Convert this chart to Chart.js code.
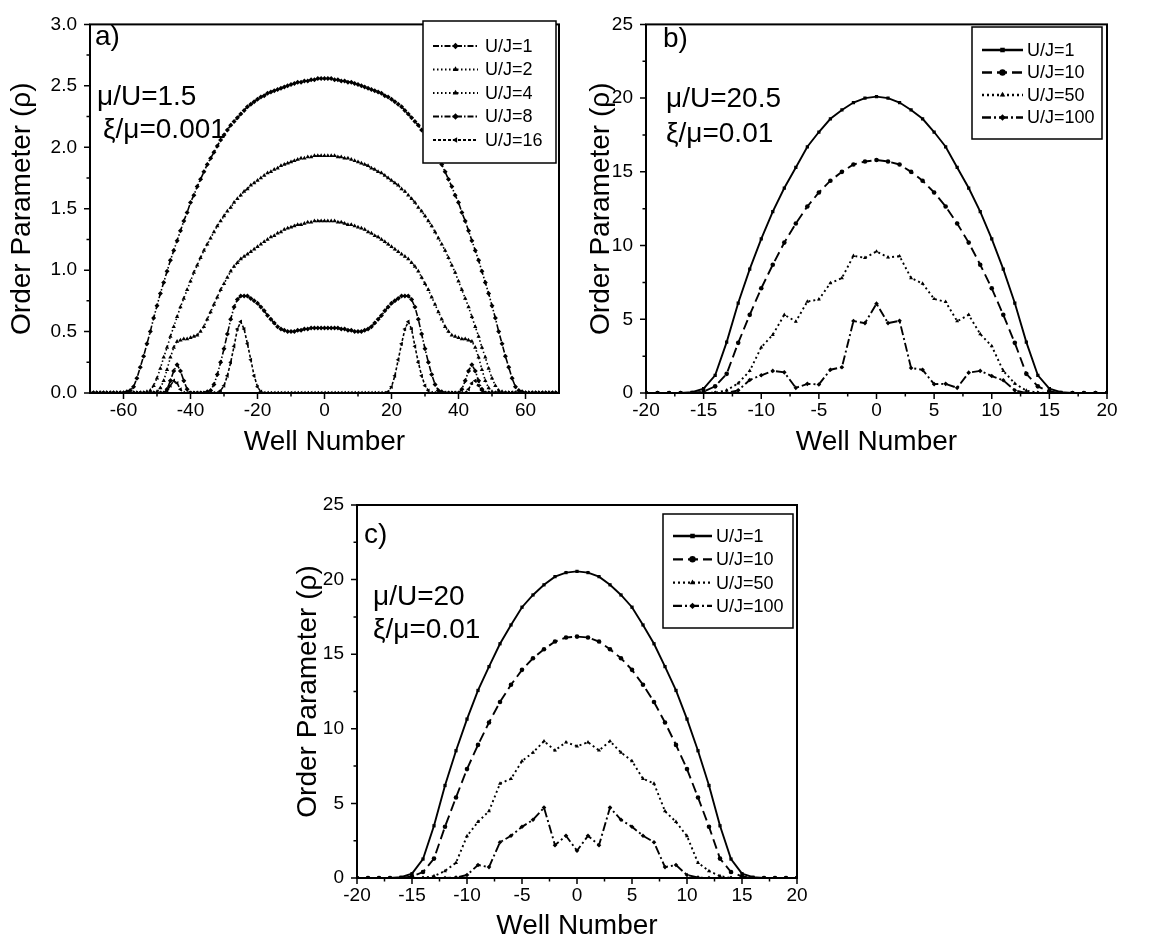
<!DOCTYPE html>
<html>
<head>
<meta charset="utf-8">
<script src="https://cdn.jsdelivr.net/npm/chart.js@4.4.1/dist/chart.umd.min.js"></script>
<style>
  html, body { margin: 0; padding: 0; background: #fff; }
  #page { position: relative; width: 1151px; height: 948px; }
  canvas { position: absolute; }
</style>
</head>
<body>
<div id="page">
  <canvas id="panelA" width="580" height="460" style="left:0;top:0"></canvas>
  <canvas id="panelB" width="571" height="460" style="left:580px;top:0"></canvas>
  <canvas id="panelC" width="540" height="478" style="left:290px;top:470px"></canvas>
</div>
<script>
'use strict';

/* ── Panel a data (wells -70 … 70) ─────────────────────────────────── */
const WELLS_A = [
  -70,-69,-68,-67,-66,-65,-64,-63,-62,-61,
  -60,-59,-58,-57,-56,-55,-54,-53,-52,-51,
  -50,-49,-48,-47,-46,-45,-44,-43,-42,-41,
  -40,-39,-38,-37,-36,-35,-34,-33,-32,-31,
  -30,-29,-28,-27,-26,-25,-24,-23,-22,-21,
  -20,-19,-18,-17,-16,-15,-14,-13,-12,-11,
  -10,-9,-8,-7,-6,-5,-4,-3,-2,-1,
  0,1,2,3,4,5,6,7,8,9,
  10,11,12,13,14,15,16,17,18,19,
  20,21,22,23,24,25,26,27,28,29,
  30,31,32,33,34,35,36,37,38,39,
  40,41,42,43,44,45,46,47,48,49,
  50,51,52,53,54,55,56,57,58,59,
  60,61,62,63,64,65,66,67,68,69,
  70
];
const A_UJ1 = [
  0,0,0,0,0,0,0,0,0,0,
  0,0.01,0.02,0.05,0.12,0.21,0.30,0.40,0.50,0.61,
  0.71,0.81,0.90,0.99,1.08,1.16,1.24,1.32,1.40,1.47,
  1.55,1.61,1.68,1.74,1.80,1.86,1.91,1.96,2.01,2.06,
  2.10,2.14,2.18,2.21,2.24,2.27,2.30,2.33,2.35,2.37,
  2.39,2.41,2.42,2.44,2.45,2.46,2.47,2.48,2.49,2.50,
  2.51,2.52,2.53,2.53,2.54,2.54,2.55,2.55,2.56,2.56,
  2.56,2.56,2.56,2.55,2.55,2.54,2.54,2.53,2.53,2.52,
  2.51,2.50,2.49,2.48,2.47,2.46,2.45,2.44,2.42,2.41,
  2.39,2.37,2.35,2.33,2.30,2.27,2.24,2.21,2.18,2.14,
  2.10,2.06,2.01,1.96,1.91,1.86,1.80,1.74,1.68,1.61,
  1.55,1.47,1.40,1.32,1.24,1.16,1.08,0.99,0.90,0.81,
  0.71,0.61,0.50,0.40,0.30,0.21,0.12,0.05,0.02,0.01,
  0,0,0,0,0,0,0,0,0,0,
  0
];
const A_UJ2 = [
  0,0,0,0,0,0,0,0,0,0,
  0,0,0,0,0,0,0,0.01,0.02,0.06,
  0.12,0.20,0.29,0.37,0.46,0.54,0.62,0.70,0.77,0.84,
  0.91,0.98,1.04,1.10,1.16,1.21,1.26,1.31,1.36,1.40,
  1.44,1.48,1.51,1.55,1.58,1.61,1.64,1.66,1.69,1.71,
  1.73,1.75,1.77,1.79,1.80,1.82,1.83,1.85,1.86,1.87,
  1.88,1.89,1.90,1.91,1.91,1.92,1.92,1.93,1.93,1.93,
  1.93,1.93,1.93,1.93,1.92,1.92,1.91,1.91,1.90,1.89,
  1.88,1.87,1.86,1.85,1.83,1.82,1.80,1.79,1.77,1.75,
  1.73,1.71,1.69,1.66,1.64,1.61,1.58,1.55,1.51,1.48,
  1.44,1.40,1.36,1.31,1.26,1.21,1.16,1.10,1.04,0.98,
  0.91,0.84,0.77,0.70,0.62,0.54,0.46,0.37,0.29,0.20,
  0.12,0.06,0.02,0.01,0,0,0,0,0,0,
  0,0,0,0,0,0,0,0,0,0,
  0
];
const A_UJ4 = [
  0,0,0,0,0,0,0,0,0,0,
  0,0,0,0,0,0,0,0,0,0,
  0.01,0.04,0.10,0.19,0.29,0.37,0.42,0.43,0.44,0.44,
  0.45,0.46,0.47,0.50,0.54,0.60,0.66,0.72,0.78,0.84,
  0.89,0.94,0.99,1.03,1.06,1.09,1.11,1.13,1.15,1.17,
  1.19,1.21,1.23,1.25,1.27,1.28,1.30,1.31,1.33,1.34,
  1.35,1.36,1.37,1.37,1.38,1.39,1.39,1.40,1.40,1.40,
  1.40,1.40,1.40,1.40,1.39,1.39,1.38,1.37,1.37,1.36,
  1.35,1.34,1.33,1.31,1.30,1.28,1.27,1.25,1.23,1.21,
  1.19,1.17,1.15,1.13,1.11,1.09,1.06,1.03,0.99,0.94,
  0.89,0.84,0.78,0.72,0.66,0.60,0.54,0.50,0.47,0.46,
  0.45,0.44,0.44,0.43,0.42,0.37,0.29,0.19,0.10,0.04,
  0.01,0,0,0,0,0,0,0,0,0,
  0,0,0,0,0,0,0,0,0,0,
  0
];
const A_UJ8 = [
  0,0,0,0,0,0,0,0,0,0,
  0,0,0,0,0,0,0,0,0,0,
  0,0,0,0.03,0.10,0.18,0.23,0.18,0.10,0.03,
  0,0,0,0,0,0.01,0.02,0.07,0.15,0.25,
  0.36,0.48,0.60,0.70,0.76,0.79,0.79,0.79,0.77,0.75,
  0.73,0.70,0.67,0.63,0.60,0.57,0.54,0.52,0.51,0.50,
  0.50,0.50,0.51,0.51,0.52,0.52,0.53,0.53,0.53,0.53,
  0.53,0.53,0.53,0.53,0.53,0.52,0.52,0.51,0.51,0.50,
  0.50,0.50,0.51,0.52,0.54,0.57,0.60,0.63,0.67,0.70,
  0.73,0.75,0.77,0.79,0.79,0.79,0.76,0.70,0.60,0.48,
  0.36,0.25,0.15,0.07,0.02,0.01,0,0,0,0,
  0,0.03,0.10,0.18,0.23,0.18,0.10,0.03,0,0,
  0,0,0,0,0,0,0,0,0,0,
  0,0,0,0,0,0,0,0,0,0,
  0
];
const A_UJ16 = [
  0,0,0,0,0,0,0,0,0,0,
  0,0,0,0,0,0,0,0,0,0,
  0,0,0,0.02,0.06,0.10,0.08,0.03,0,0,
  0,0,0,0,0,0,0,0,0,0.02,
  0.06,0.14,0.25,0.38,0.52,0.58,0.52,0.40,0.27,0.14,
  0.05,0.01,0,0,0,0,0,0,0,0,
  0,0,0,0,0,0,0,0,0,0,
  0,0,0,0,0,0,0,0,0,0,
  0,0,0,0,0,0,0,0,0,0.01,
  0.05,0.14,0.27,0.40,0.52,0.58,0.52,0.38,0.25,0.14,
  0.06,0.02,0,0,0,0,0,0,0,0,
  0,0,0,0.03,0.08,0.10,0.06,0.02,0,0,
  0,0,0,0,0,0,0,0,0,0,
  0,0,0,0,0,0,0,0,0,0,
  0
];

/* ── Panels b and c data (wells -20 … 20) ──────────────────────────── */
const WELLS_BC = [
  -20,-19,-18,-17,-16,-15,-14,-13,-12,-11,
  -10,-9,-8,-7,-6,-5,-4,-3,-2,-1,
  0,1,2,3,4,5,6,7,8,9,
  10,11,12,13,14,15,16,17,18,19,20
];
const B_UJ1 = [
  0,0,0,0,0.05,0.3,1.2,3.45,6.1,8.4,
  10.45,12.3,13.9,15.3,16.7,17.7,18.6,19.2,19.7,20.0,
  20.1,20.0,19.7,19.2,18.6,17.7,16.7,15.3,13.9,12.3,
  10.45,8.4,6.1,3.45,1.2,0.3,0.05,0,0,0,0
];
const B_UJ10 = [
  0,0,0,0,0,0.1,0.45,1.3,3.4,5.3,
  7.1,8.7,10.2,11.5,12.65,13.6,14.4,15.0,15.5,15.7,
  15.8,15.7,15.5,15.0,14.4,13.6,12.65,11.5,10.2,8.7,
  7.1,5.3,3.4,1.3,0.45,0.1,0,0,0,0,0
];
const B_UJ50 = [
  0,0,0,0,0,0,0.02,0.18,0.66,1.5,
  3.1,3.95,5.3,4.85,6.2,6.35,7.45,7.8,9.3,9.17,
  9.6,9.2,9.28,7.8,7.42,6.38,6.18,4.87,5.3,4.0,
  3.18,1.5,0.64,0.16,0.02,0,0,0,0,0,0
];
const B_UJ100 = [
  0,0,0,0,0,0,0,0,0.18,0.88,
  1.2,1.5,1.4,0.35,0.62,0.58,1.58,1.75,4.88,4.74,
  6.06,4.74,4.9,1.7,1.57,0.6,0.62,0.35,1.38,1.5,
  1.15,0.86,0.18,0,0,0,0,0,0,0,0
];
const C_UJ1 = [
  0,0,0,0,0.05,0.29,1.27,3.5,6.2,8.53,
  10.65,12.57,14.17,15.7,16.96,18.15,18.97,19.65,20.2,20.47,
  20.55,20.47,20.2,19.65,18.97,18.15,16.96,15.7,14.17,12.57,
  10.65,8.53,6.2,3.5,1.27,0.29,0.05,0,0,0,0
];
const C_UJ10 = [
  0,0,0,0,0,0.1,0.4,1.3,3.44,5.4,
  7.3,8.92,10.42,11.8,12.95,13.95,14.73,15.33,15.85,16.12,
  16.18,16.12,15.85,15.33,14.73,13.95,12.95,11.8,10.42,8.92,
  7.3,5.4,3.44,1.3,0.4,0.1,0,0,0,0,0
];
const C_UJ50 = [
  0,0,0,0,0,0,0,0.13,0.47,1.02,
  2.81,3.76,4.48,6.33,6.65,7.84,8.41,9.17,8.55,9.1,
  8.83,9.1,8.55,9.17,8.41,7.84,6.65,6.33,4.48,3.76,
  2.81,1.02,0.47,0.13,0,0,0,0,0,0,0
];
const C_UJ100 = [
  0,0,0,0,0,0,0,0,0,0.03,
  0.2,0.87,0.73,2.4,2.83,3.43,3.9,4.72,2.2,2.83,
  1.83,2.83,2.2,4.72,3.9,3.43,2.83,2.4,0.73,0.87,
  0.2,0.03,0,0,0,0,0,0,0,0,0
];

const A_LABELS  = ['U/J=1', 'U/J=2', 'U/J=4', 'U/J=8', 'U/J=16'];
const BC_LABELS = ['U/J=1', 'U/J=10', 'U/J=50', 'U/J=100'];

/* ── Tick values ───────────────────────────────────────────────────── */
const A_X_TICKS  = [-60, -40, -20, 0, 20, 40, 60];
const A_X_MINOR  = [-50, -30, -10, 10, 30, 50];
const A_Y_TICKS  = [0, 0.5, 1.0, 1.5, 2.0, 2.5, 3.0];
const A_Y_MINOR  = [0.25, 0.75, 1.25, 1.75, 2.25, 2.75];
const BC_X_TICKS = [-20, -15, -10, -5, 0, 5, 10, 15, 20];
const BC_X_MINOR = [-17.5, -12.5, -7.5, -2.5, 2.5, 7.5, 12.5, 17.5];
const BC_Y_TICKS = [0, 5, 10, 15, 20, 25];
const BC_Y_MINOR = [2.5, 7.5, 12.5, 17.5, 22.5];

/* ── Styles ────────────────────────────────────────────────────────── */
const FONT = "'Liberation Sans', Arial, sans-serif";
const INK  = '#000';

const STYLE_A = [
  { dash: [6, 2, 1.5, 2], point: 'rectRot',  rot: 0   },
  { dash: [1.5, 2.5],     point: 'triangle', rot: 0   },
  { dash: [1.5, 2.5],     point: 'triangle', rot: 0   },
  { dash: [6, 2, 1.5, 2], point: 'rectRot',  rot: 0   },
  { dash: [3, 2],         point: 'triangle', rot: -90 },
];
const STYLE_BC = [
  { dash: [],             point: 'rect',     rot: 0 },
  { dash: [10, 5],        point: 'circle',   rot: 0 },
  { dash: [2, 3],         point: 'triangle', rot: 0 },
  { dash: [9, 3, 2, 3],   point: 'rectRot',  rot: 0 },
];

function series(wells, values, label, st, radius, width) {
  return {
    label,
    data:                 wells.map((w, i) => ({ x: w, y: values[i] })),
    borderColor:          INK,
    borderWidth:          width,
    borderDash:           st.dash,
    pointStyle:           st.point,
    pointRotation:        st.rot,
    pointRadius:          radius,
    pointBackgroundColor: INK,
    pointBorderColor:     INK,
    pointBorderWidth:     0,
    tension:              0,
    fill:                 false,
  };
}

/* ── Frame, tick marks, notes and legend (Origin look) ─────────────── */
const decor = {
  id: 'decor',
  afterDraw(chart, args, o) {
    const { ctx, chartArea: a, scales: { x, y } } = chart;
    ctx.save();
    ctx.strokeStyle = INK;
    ctx.fillStyle   = INK;
    ctx.setLineDash([]);

    ctx.lineWidth = 2;
    ctx.strokeRect(a.left, a.top, a.right - a.left, a.bottom - a.top);

    ctx.lineWidth = 1.5;
    ctx.beginPath();
    x.ticks.forEach(t => {
      const px = x.getPixelForValue(t.value);
      ctx.moveTo(px, a.bottom); ctx.lineTo(px, a.bottom + 6);
    });
    o.xMinor.forEach(v => {
      const px = x.getPixelForValue(v);
      ctx.moveTo(px, a.bottom); ctx.lineTo(px, a.bottom + 3.5);
    });
    y.ticks.forEach(t => {
      const py = y.getPixelForValue(t.value);
      ctx.moveTo(a.left, py); ctx.lineTo(a.left - 6, py);
    });
    o.yMinor.forEach(v => {
      const py = y.getPixelForValue(v);
      ctx.moveTo(a.left, py); ctx.lineTo(a.left - 3.5, py);
    });
    ctx.stroke();

    // panel letter and parameters
    ctx.textAlign    = 'left';
    ctx.textBaseline = 'alphabetic';
    ctx.font = `28px ${FONT}`;
    o.notes.forEach(n => ctx.fillText(n.text, n.x, n.y));

    // legend box
    const L = o.legend;
    ctx.fillStyle = '#fff';
    ctx.fillRect(L.left, L.top, L.width, L.height);
    ctx.fillStyle = INK;
    ctx.lineWidth = 1.5;
    ctx.strokeRect(L.left, L.top, L.width, L.height);
    ctx.font = `18px ${FONT}`;
    ctx.textBaseline = 'middle';
    chart.data.datasets.forEach((ds, i) => {
      const yy = L.top + L.first + i * L.step;
      ctx.lineWidth = ds.borderWidth + 0.4;
      ctx.setLineDash(ds.borderDash);
      ctx.beginPath();
      ctx.moveTo(L.lineX0, yy);
      ctx.lineTo(L.lineX1, yy);
      ctx.stroke();
      ctx.setLineDash([]);
      Chart.helpers.drawPoint(ctx, {
        pointStyle:  ds.pointStyle,
        rotation:    ds.pointRotation,
        radius:      L.marker,
        borderWidth: 0,
      }, (L.lineX0 + L.lineX1) / 2, yy);
      ctx.fillText(ds.label, L.textX, yy + 1);
    });
    ctx.restore();
  },
};

/* ── Panel builder ─────────────────────────────────────────────────── */
function panel(id, p) {
  const tickFont  = { family: FONT, size: 19 };
  const titleFont = { family: FONT, size: 28, lineHeight: 1 };
  return new Chart(document.getElementById(id), {
    type: 'line',
    data: { datasets: p.datasets },
    options: {
      responsive: false,
      animation:  false,
      events:     [],
      layout: { padding: { left: 0, top: p.padTop, right: p.padRight, bottom: 0 } },
      plugins: {
        legend:  { display: false },
        tooltip: { enabled: false },
        decor: {
          xMinor: p.xMinor,
          yMinor: p.yMinor,
          notes:  p.notes,
          legend: p.legend,
        },
      },
      scales: {
        x: {
          type: 'linear',
          min: p.xMin, max: p.xMax,
          afterBuildTicks: s => { s.ticks = p.xTicks.map(v => ({ value: v })); },
          afterFit: s => { s.height = p.xHeight; },
          grid:   { display: false, drawTicks: false },
          border: { display: false },
          ticks:  { color: INK, font: tickFont, padding: 6, maxRotation: 0, autoSkip: false },
          title:  {
            display: true, text: 'Well Number', color: INK, font: titleFont,
            padding: { top: 0, bottom: p.xTitlePad },
          },
        },
        y: {
          type: 'linear',
          min: p.yMin, max: p.yMax,
          afterBuildTicks: s => { s.ticks = p.yTicks.map(v => ({ value: v })); },
          afterFit: s => { s.width = p.yWidth; },
          grid:   { display: false, drawTicks: false },
          border: { display: false },
          ticks:  { color: INK, font: tickFont, padding: 13, callback: p.yFmt },
          title:  {
            display: true, text: 'Order Parameter (\u03c1)', color: INK, font: titleFont,
            padding: { top: p.yTitlePad, bottom: 0 },
          },
        },
      },
    },
    plugins: [decor],
  });
}

/* ── a) ── */
panel('panelA', {
  datasets: [A_UJ1, A_UJ2, A_UJ4, A_UJ8, A_UJ16].map((v, i) =>
    series(WELLS_A, v, A_LABELS[i], STYLE_A[i], 2.5, 1.6)),
  xMin: -70, xMax: 70, yMin: 0, yMax: 3,
  xTicks: A_X_TICKS, xMinor: A_X_MINOR,
  yTicks: A_Y_TICKS, yMinor: A_Y_MINOR,
  yFmt: v => v.toFixed(1),
  padTop: 14, padRight: 21, xHeight: 67, yWidth: 90,
  xTitlePad: 4, yTitlePad: 8,
  notes: [
    { text: 'a)',                  x: 95,  y: 45  },
    { text: '\u03bc/U=1.5',        x: 97,  y: 105 },
    { text: '\u03be/\u03bc=0.001', x: 103, y: 138 },
  ],
  legend: { left: 423, top: 21, width: 133, height: 142, first: 25, step: 23.5,
            lineX0: 433, lineX1: 478, textX: 485, marker: 3.2 },
});

/* ── b) ── */
panel('panelB', {
  datasets: [B_UJ1, B_UJ10, B_UJ50, B_UJ100].map((v, i) =>
    series(WELLS_BC, v, BC_LABELS[i], STYLE_BC[i], 2.3, 1.9)),
  xMin: -20, xMax: 20, yMin: 0, yMax: 25,
  xTicks: BC_X_TICKS, xMinor: BC_X_MINOR,
  yTicks: BC_Y_TICKS, yMinor: BC_Y_MINOR,
  yFmt: v => String(v),
  padTop: 16, padRight: 44, xHeight: 67, yWidth: 66,
  xTitlePad: 4, yTitlePad: 7,
  notes: [
    { text: 'b)',                 x: 83, y: 47  },
    { text: '\u03bc/U=20.5',      x: 86, y: 107 },
    { text: '\u03be/\u03bc=0.01', x: 86, y: 142 },
  ],
  legend: { left: 392, top: 27, width: 130, height: 112, first: 23, step: 22.5,
            lineX0: 402, lineX1: 443, textX: 447, marker: 3.2 },
});

/* ── c) ── */
panel('panelC', {
  datasets: [C_UJ1, C_UJ10, C_UJ50, C_UJ100].map((v, i) =>
    series(WELLS_BC, v, BC_LABELS[i], STYLE_BC[i], 2.3, 1.9)),
  xMin: -20, xMax: 20, yMin: 0, yMax: 25,
  xTicks: BC_X_TICKS, xMinor: BC_X_MINOR,
  yTicks: BC_Y_TICKS, yMinor: BC_Y_MINOR,
  yFmt: v => String(v),
  padTop: 35, padRight: 33, xHeight: 70, yWidth: 67,
  xTitlePad: 8, yTitlePad: 4,
  notes: [
    { text: 'c)',                 x: 74, y: 73  },
    { text: '\u03bc/U=20',        x: 83, y: 135 },
    { text: '\u03be/\u03bc=0.01', x: 83, y: 168 },
  ],
  legend: { left: 373, top: 44, width: 130, height: 114, first: 22, step: 23.3,
            lineX0: 383, lineX1: 422, textX: 426, marker: 3.2 },
});
</script>
</body>
</html>
